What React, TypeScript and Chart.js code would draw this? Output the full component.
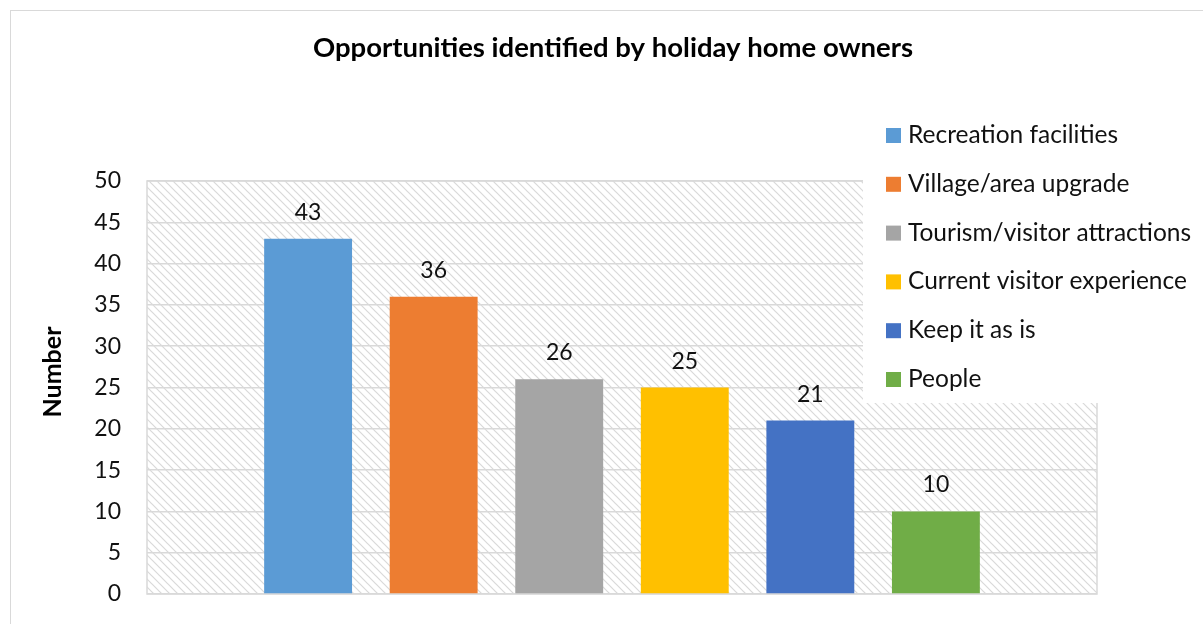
import React, { useEffect, useRef } from "react";
import { Chart, registerables } from "chart.js";

Chart.register(...registerables);

const chartTitle = "Opportunities identified by holiday home owners";
const yAxisTitle = "Number";
const categories = [""];
const seriesNames = [
  "Recreation facilities",
  "Village/area upgrade",
  "Tourism/visitor attractions",
  "Current visitor experience",
  "Keep it as is",
  "People",
];
const seriesValues = [43, 36, 26, 25, 21, 10];
const seriesColors = ["#5B9BD5", "#ED7D31", "#A5A5A5", "#FFC000", "#4472C4", "#70AD47"];
const yMin = 0;
const yMax = 50;
const yStep = 5;

const FONT = "Lato, 'Open Sans', sans-serif";

function makePattern(ctx: CanvasRenderingContext2D) {
  const c = document.createElement("canvas");
  c.width = 8;
  c.height = 8;
  const p = c.getContext("2d")!;
  p.fillStyle = "#ffffff";
  p.fillRect(0, 0, 8, 8);
  p.strokeStyle = "#d9d9d9";
  p.lineWidth = 1.2;
  p.beginPath();
  p.moveTo(-2, -2);
  p.lineTo(10, 10);
  p.moveTo(-10, -2);
  p.lineTo(2, 10);
  p.moveTo(6, -2);
  p.lineTo(18, 10);
  p.stroke();
  return ctx.createPattern(c, "repeat");
}

const customPlugin = {
  id: "customDecor",
  beforeDraw(chart: any) {
    const ctx = chart.ctx as CanvasRenderingContext2D;
    const a = chart.chartArea;
    ctx.save();
    ctx.fillStyle = "#ffffff";
    ctx.fillRect(0, 0, chart.width, chart.height);
    ctx.strokeStyle = "#d9d9d9";
    ctx.lineWidth = 1;
    ctx.strokeRect(10.5, 10.5, chart.width + 40, chart.height + 40);
    const pat = makePattern(ctx);
    if (pat) {
      ctx.fillStyle = pat;
      ctx.fillRect(a.left, a.top, a.right - a.left, a.bottom - a.top);
    }
    ctx.restore();
  },
  beforeDatasetsDraw(chart: any) {
    const ctx = chart.ctx as CanvasRenderingContext2D;
    const a = chart.chartArea;
    ctx.save();
    ctx.strokeStyle = "#d9d9d9";
    ctx.lineWidth = 1.5;
    ctx.strokeRect(a.left, a.top, a.right - a.left, a.bottom - a.top);
    ctx.restore();
  },
  afterDatasetsDraw(chart: any) {
    const ctx = chart.ctx as CanvasRenderingContext2D;
    ctx.save();
    ctx.fillStyle = "#111111";
    ctx.font = `23px ${FONT}`;
    ctx.textAlign = "center";
    ctx.textBaseline = "alphabetic";
    chart.data.datasets.forEach((ds: any, i: number) => {
      const meta = chart.getDatasetMeta(i);
      meta.data.forEach((el: any, j: number) => {
        ctx.fillText(String(ds.data[j]), el.x, el.y - 19);
      });
    });
    ctx.restore();
  },
  afterDraw(chart: any) {
    const ctx = chart.ctx as CanvasRenderingContext2D;
    ctx.save();
    // legend box
    ctx.fillStyle = "#ffffff";
    ctx.fillRect(863, 100, chart.width - 863, 303);
    ctx.font = `24.5px ${FONT}`;
    ctx.textAlign = "left";
    ctx.textBaseline = "alphabetic";
    chart.data.datasets.forEach((ds: any, i: number) => {
      const base = 143 + i * 48.8;
      ctx.fillStyle = ds.backgroundColor;
      ctx.fillRect(886, base - 15, 15, 15);
      ctx.fillStyle = "#111111";
      ctx.fillText(ds.label, 908, base);
    });
    // title
    ctx.font = `bold 27.5px ${FONT}`;
    ctx.textAlign = "center";
    ctx.fillStyle = "#000000";
    ctx.fillText(chartTitle, 613, 57);
    // y axis title
    ctx.translate(53, 372);
    ctx.rotate(-Math.PI / 2);
    ctx.font = `bold 25px ${FONT}`;
    ctx.textBaseline = "middle";
    ctx.fillText(yAxisTitle, 0, 0);
    ctx.restore();
  },
};

export default function App() {
  const ref = useRef<HTMLCanvasElement | null>(null);
  useEffect(() => {
    if (!ref.current) return;
    const chart = new Chart(ref.current, {
      type: "bar",
      data: {
        labels: categories,
        datasets: seriesNames.map((name, i) => ({
          label: name,
          data: [seriesValues[i]],
          backgroundColor: seriesColors[i],
          borderWidth: 0,
          categoryPercentage: 0.793,
          barPercentage: 0.7,
        })),
      },
      options: {
        responsive: false,
        animation: false,
        layout: { padding: { left: 0, top: 181, right: 106, bottom: 30 } },
        plugins: {
          legend: { display: false },
          title: { display: false },
          tooltip: { enabled: false },
        },
        scales: {
          x: {
            display: false,
          },
          y: {
            min: yMin,
            max: yMax,
            ticks: {
              stepSize: yStep,
              padding: 26,
              color: "#111111",
              font: { family: FONT, size: 23 },
            },
            grid: { color: "#d9d9d9", lineWidth: 1.5, drawTicks: false },
            border: { display: false },
            afterFit: (s: any) => {
              s.width = 147;
              s.paddingTop = 0;
              s.paddingBottom = 0;
            },
          },
        },
      },
      plugins: [customPlugin],
    });
    return () => chart.destroy();
  }, []);
  return (
    <div style={{ position: "absolute", left: 0, top: 0, width: 1203, height: 624, background: "#fff" }}>
      <canvas ref={ref} width={1203} height={624} />
    </div>
  );
}
